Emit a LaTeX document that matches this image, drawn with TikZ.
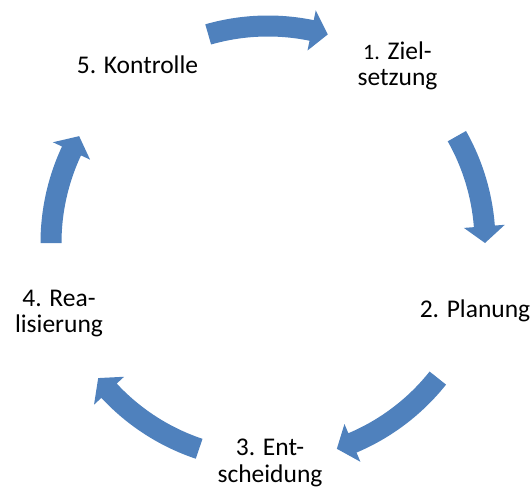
\documentclass[tikz,border=0pt]{standalone}
\usepackage{fontspec}
\setmainfont{Carlito}
\definecolor{accentblue}{HTML}{4F81BD}
\tikzset{
  cyclelabel/.style={font=\fontsize{25.5}{26.5}\selectfont, align=center, inner sep=0pt, text=black},
  arrowfill/.style={fill=accentblue, draw=none},
}
% curved block arrow: #1 tail angle, #2 tip angle (clockwise)
\newcommand\cyclearrow[2]{%
  \pgfmathsetmacro\headang{#2+4.4}%
  \fill[arrowfill, shift={(268pt,248pt)}]
    (#1:227.5pt) arc[start angle=#1, end angle=\headang, radius=227.5pt]
    -- (\headang:237.5pt) -- (#2:217pt) -- (\headang:196.5pt)
    -- (\headang:206.5pt) arc[start angle=\headang, end angle=#1, radius=206.5pt]
    -- cycle;
}
\begin{document}
\begin{tikzpicture}[x=1pt, y=1pt]
\useasboundingbox (0,0) rectangle (532,491);
% arrows
\cyclearrow{106}{74}
\cyclearrow{29.5}{0}
\cyclearrow{-38.5}{-71.5}
\cyclearrow{-108.5}{-141.5}
\cyclearrow{180}{150.5}
% labels
\node[cyclelabel, anchor=center] (l1) at (397.5,425) {{\fontsize{22}{26.5}\selectfont 1.} Ziel-\\setzung};
\node[cyclelabel, anchor=base] (l2) at (475,174) {2. Planung};
\node[cyclelabel, anchor=center] (l3) at (270,28) {3. Ent-\\scheidung};
\node[cyclelabel, anchor=center] (l4) at (59,177.5) {4. Rea-\\lisierung};
\node[cyclelabel, anchor=base] (l5) at (137.5,417) {5. Kontrolle};
\end{tikzpicture}
\end{document}
